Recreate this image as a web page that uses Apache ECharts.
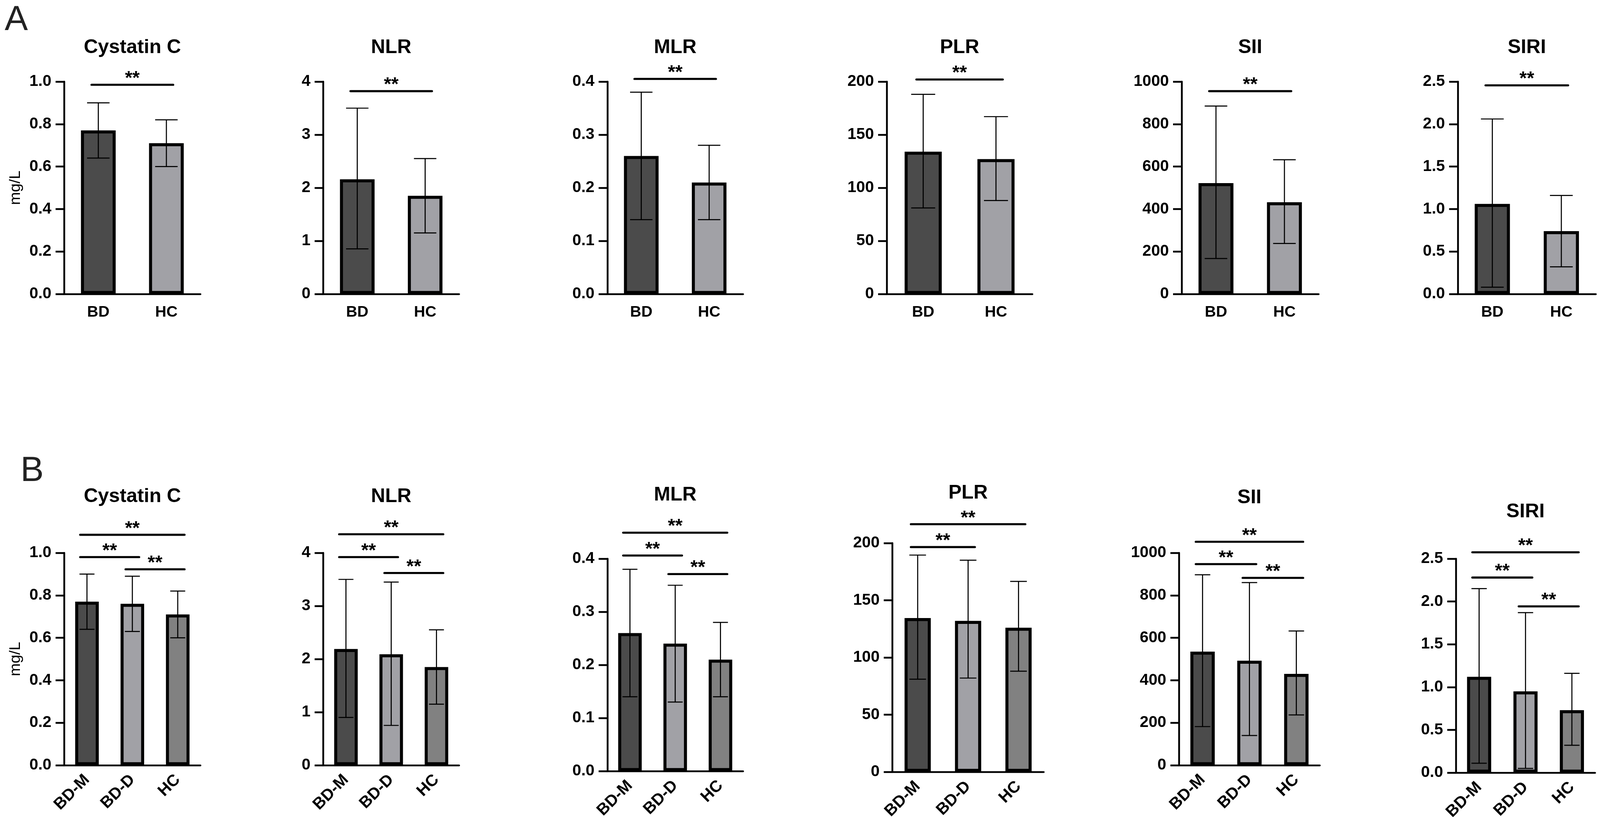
<!DOCTYPE html>
<html lang="en">
<head>
<meta charset="UTF-8">
<title>Cystatin C and inflammatory indices</title>
<script src="https://cdn.jsdelivr.net/npm/echarts@6/dist/echarts.min.js"></script>
<style>
  html, body { margin: 0; padding: 0; background: #fff; width: 100%; height: 100%; overflow: hidden; }
  #main { width: 100vw; height: 100vh; }
</style>
</head>
<body>
<div id="main"></div>
<script>
// ---- data ----
var groupsA = ['BD', 'HC'];
var groupsB = ['BD-M', 'BD-D', 'HC'];
var markers = ['Cystatin C', 'NLR', 'MLR', 'PLR', 'SII', 'SIRI'];

// y axis range per marker
var yMax = [1.0, 4, 0.4, 200, 1000, 2.5];
var yStep = [0.2, 1, 0.1, 50, 200, 0.5];
var yDecimals = [1, 0, 1, 0, 0, 1];

// panel A: mean, lower and upper end of the error bar
var meanA = [[0.77, 0.71], [2.16, 1.85], [0.26, 0.21], [134, 127], [522, 432], [1.06, 0.74]];
var lowA  = [[0.64, 0.60], [0.85, 1.15], [0.14, 0.14], [81, 88], [167, 238], [0.08, 0.32]];
var highA = [[0.90, 0.82], [3.50, 2.55], [0.38, 0.28], [188, 167], [885, 632], [2.06, 1.16]];
// height of the BD vs HC significance bar
var sigA = [0.985, 3.82, 0.405, 202, 955, 2.456];

// panel B
var meanB = [[0.77, 0.76, 0.71], [2.19, 2.09, 1.85], [0.26, 0.24, 0.21], [134.5, 132, 126], [535, 492, 430], [1.12, 0.95, 0.73]];
var lowB  = [[0.64, 0.63, 0.60], [0.90, 0.75, 1.15], [0.14, 0.13, 0.14], [81, 82, 88], [182, 140, 237], [0.11, 0.05, 0.32]];
var highB = [[0.90, 0.89, 0.82], [3.50, 3.45, 2.55], [0.38, 0.35, 0.28], [189.5, 185, 166.5], [897, 860, 632], [2.15, 1.87, 1.16]];
// significance bars: [from group, to group, height]
var sigB = [
  [[0, 2, 1.085], [0, 1, 0.98], [1, 2, 0.9225]],
  [[0, 2, 4.35], [0, 1, 3.92], [1, 2, 3.62]],
  [[0, 2, 0.449], [0, 1, 0.406], [1, 2, 0.371]],
  [[0, 2, 216.5], [0, 1, 196.5]],
  [[0, 2, 1052], [0, 1, 947], [1, 2, 882]],
  [[0, 2, 2.575], [0, 1, 2.28], [1, 2, 1.943]]
];
var sigText = '**';

// ---- layout, in pixels of a 4231 x 2131 page ----
var layoutA = {
  left:   [170, 855, 1606, 2345, 3125, 3855],
  width:  [360, 359, 359, 385, 362, 365],
  top:    [209, 209, 209, 209, 209, 209],
  bottom: [753, 753, 753, 753, 753, 753],
  titleY: [122, 122, 122, 122, 122, 122]
};
var layoutB = {
  left:   [170, 855, 1606, 2360, 3118, 3850],
  width:  [360, 359, 359, 400, 372, 368],
  top:    [1416, 1416, 1431, 1391, 1416, 1431],
  bottom: [1960, 1960, 1975, 1977, 1960, 1979],
  titleY: [1272, 1272, 1268, 1263, 1275, 1311]
};

var colorsA = ['#4b4b4b', '#a1a1a6'];
var colorsB = ['#4b4b4b', '#a1a1a6', '#818181'];
var FONT = '"Liberation Sans", Arial, Helvetica, sans-serif';

var dom = document.getElementById('main');
var chart = echarts.init(dom);
var sx = chart.getWidth() / 4231;
var sy = chart.getHeight() / 2131;
var s = Math.min(sx, sy);

var grids = [], xAxes = [], yAxes = [], series = [], graphics = [];

function errorRenderer(capFrac) {
  return function (params, api) {
    var i = api.value(0);
    var top = api.coord([i, api.value(2)]);
    var bot = api.coord([i, api.value(1)]);
    var half = api.size([1, 0])[0] * capFrac / 2;
    var st = { stroke: '#000', lineWidth: 2.8 * s };
    return {
      type: 'group',
      children: [
        { type: 'line', shape: { x1: top[0], y1: top[1], x2: bot[0], y2: bot[1] }, style: st },
        { type: 'line', shape: { x1: top[0] - half, y1: top[1], x2: top[0] + half, y2: top[1] }, style: st },
        { type: 'line', shape: { x1: bot[0] - half, y1: bot[1], x2: bot[0] + half, y2: bot[1] }, style: st }
      ]
    };
  };
}

function bracketRenderer(params, api) {
  var a = api.coord([api.value(0), api.value(2)]);
  var b = api.coord([api.value(1), api.value(2)]);
  var over = 18 * s;
  return {
    type: 'group',
    children: [
      { type: 'line', shape: { x1: a[0] - over, y1: a[1], x2: b[0] + over, y2: b[1] },
        style: { stroke: '#000', lineWidth: 5.5 * s, lineCap: 'round' } },
      { type: 'text', x: (a[0] + b[0]) / 2, y: a[1] - 16 * s,
        style: { text: sigText, fill: '#000', fontSize: 50 * s, fontWeight: 'bold', fontFamily: FONT,
                 align: 'center', verticalAlign: 'middle' } }
    ]
  };
}

function addPanel(m, cats, colors, means, lows, highs, brackets, lay, rotated, barWidth) {
  var k = grids.length;
  grids.push({
    left: lay.left[m] * sx, top: lay.top[m] * sy, width: lay.width[m] * sx,
    height: (lay.bottom[m] - lay.top[m]) * sy, containLabel: false
  });
  xAxes.push({
    type: 'category', gridIndex: k, data: cats,
    axisLine: { lineStyle: { color: '#000', width: 4.8 * s } },
    axisTick: { alignWithLabel: true, length: 23 * s, lineStyle: { color: '#000', width: 4.8 * s } },
    axisLabel: {
      color: '#000', fontSize: (rotated ? 43 : 41) * s, fontWeight: 'bold', fontFamily: FONT,
      margin: (rotated ? 32 : 28) * s, rotate: rotated ? 45 : 0, interval: 0
    }
  });
  var dec = yDecimals[m];
  yAxes.push({
    type: 'value', gridIndex: k, min: 0, max: yMax[m], interval: yStep[m],
    splitLine: { show: false },
    axisLine: { show: true, lineStyle: { color: '#000', width: 4.8 * s } },
    axisTick: { show: true, length: 23 * s, lineStyle: { color: '#000', width: 4.8 * s } },
    axisLabel: {
      color: '#000', fontSize: 42 * s, fontWeight: 'bold', fontFamily: FONT, margin: 34 * s,
      formatter: function (v) { return v.toFixed(dec); }
    },
    name: m === 0 ? 'mg/L' : '', nameLocation: 'middle', nameRotate: 90, nameGap: 108 * s,
    nameTextStyle: { color: '#000', fontSize: 41 * s, fontFamily: FONT }
  });
  series.push({
    type: 'bar', xAxisIndex: k, yAxisIndex: k, barWidth: barWidth,
    data: means.map(function (v, i) {
      return { value: v, itemStyle: { color: colors[i] } };
    }),
    itemStyle: { borderColor: '#000', borderWidth: 8 * s },
    z: 2
  });
  series.push({
    type: 'custom', xAxisIndex: k, yAxisIndex: k, clip: false, z: 3,
    renderItem: errorRenderer(0.33),
    encode: { x: 0, y: [1, 2] },
    data: means.map(function (v, i) { return [i, lows[i], highs[i]]; })
  });
  series.push({
    type: 'custom', xAxisIndex: k, yAxisIndex: k, clip: false, z: 4,
    renderItem: bracketRenderer,
    encode: { x: [0, 1], y: 2 },
    data: brackets
  });
  graphics.push({
    type: 'text', x: (lay.left[m] + lay.width[m] / 2) * sx, y: lay.titleY[m] * sy,
    style: { text: markers[m], fill: '#000', fontSize: 52 * s, fontWeight: 'bold', fontFamily: FONT,
             align: 'center', verticalAlign: 'middle' }
  });
}

for (var m = 0; m < markers.length; m++) {
  addPanel(m, groupsA, colorsA, meanA[m], lowA[m], highA[m], [[0, 1, sigA[m]]], layoutA, false, '51%');
  addPanel(m, groupsB, colorsB, meanB[m], lowB[m], highB[m], sigB[m], layoutB, true, '52%');
}

graphics.push({
  type: 'text', x: 43 * sx, y: 52 * sy,
  style: { text: 'A', fill: '#222', fontSize: 92 * s, fontFamily: FONT, align: 'center', verticalAlign: 'middle' }
});
graphics.push({
  type: 'text', x: 85 * sx, y: 1207 * sy,
  style: { text: 'B', fill: '#222', fontSize: 92 * s, fontFamily: FONT, align: 'center', verticalAlign: 'middle' }
});

chart.setOption({
  backgroundColor: '#fff',
  animation: false,
  grid: grids,
  xAxis: xAxes,
  yAxis: yAxes,
  series: series,
  graphic: graphics
});
</script>
</body>
</html>
